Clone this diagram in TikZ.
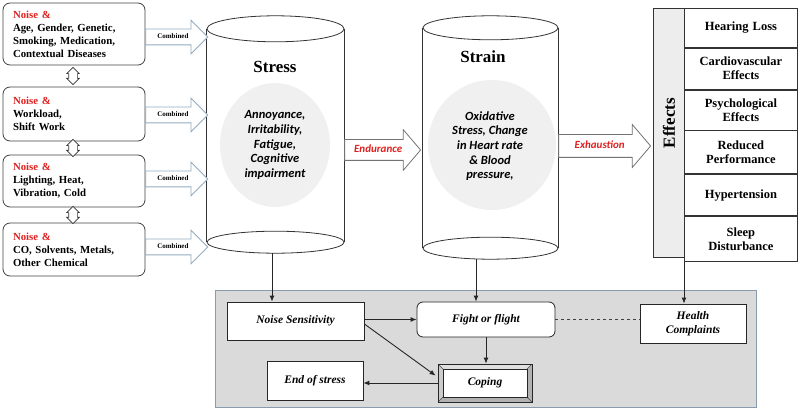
\documentclass[tikz,border=0pt]{standalone}
\usepackage{fontspec}
\setmainfont{Liberation Serif}
\newfontfamily\calib{Carlito}
\usetikzlibrary{shapes.arrows,calc,arrows.meta}
\definecolor{nred}{HTML}{E02020}
\definecolor{arrblue}{HTML}{93AAC0}
\definecolor{panel}{HTML}{DADADA}
\definecolor{panelb}{HTML}{8A9BAE}
\definecolor{blob}{HTML}{F0F0F0}
\definecolor{effgray}{HTML}{EDEDED}
\begin{document}
\begin{tikzpicture}[x=1pt,y=-1pt,
  lbox/.style={draw=black!75, line width=0.8pt, rounded corners=7pt, minimum width=142pt, text width=122pt, align=left, inner sep=0pt, font=\bfseries\fontsize{10.8}{13}\selectfont},
  comb/.style={single arrow, draw=arrblue, line width=0.8pt, fill=white, single arrow tip angle=90, single arrow head extend=9pt, minimum height=62pt, text height=5pt, text depth=1pt, inner ysep=4.5pt, inner xsep=2pt, anchor=tail, font=\bfseries\fontsize{7}{8}\selectfont},
  updown/.style={double arrow, draw=black!80, line width=0.6pt, fill=white, rotate=90, double arrow tip angle=90, double arrow head extend=2pt, minimum height=14pt, inner sep=4pt},
  bigarr/.style={single arrow, draw=black!55, line width=0.8pt, fill=white, single arrow tip angle=99, single arrow head extend=10pt, text height=7pt, text depth=2pt, inner xsep=2pt, anchor=tail, text=nred, font=\calib\bfseries\itshape\fontsize{11}{12}\selectfont},
  cyl/.style={draw=black!80, line width=0.8pt},
  ctitle/.style={font=\bfseries\fontsize{17}{20}\selectfont},
  ctext/.style={align=center, font=\calib\bfseries\itshape\fontsize{12.5}{14.7}\selectfont},
  row/.style={draw=black!80, line width=0.8pt, fill=white, anchor=north west, minimum width=113pt, text width=108pt, align=center, inner sep=0pt, font=\bfseries\fontsize{12.5}{14}\selectfont},
  bbox/.style={draw=black!85, line width=0.8pt, fill=white, align=center, inner sep=0pt, font=\bfseries\itshape\fontsize{11.5}{14}\selectfont},
  arr/.style={draw=black!85, line width=0.9pt, -{Latex[length=6pt,width=5pt]}}
]
\useasboundingbox (0,0) rectangle (800,411);

% ---------- left boxes ----------
\node[lbox, minimum height=62pt] (b1) at (74,34) {{\color{nred}Noise \&}\\Age, Gender, Genetic,\\Smoking, Medication,\\Contextual Diseases};
\node[lbox, minimum height=54pt] (b2) at (74,114) {{\color{nred}Noise \&}\\Workload,\\Shift Work};
\node[lbox, minimum height=52pt] (b3) at (74,181) {{\color{nred}Noise \&}\\Lighting, Heat,\\Vibration, Cold};
\node[lbox, minimum height=53pt] (b4) at (74,249.5) {{\color{nred}Noise \&}\\CO, Solvents, Metals,\\Other Chemical};

\node[updown] (d1) at ($(b1.south)!0.5!(b2.north)+(-1,0)$) {};
\node[updown] (d2) at ($(b2.south)!0.5!(b3.north)+(-1,0)$) {};
\node[updown] (d3) at ($(b3.south)!0.5!(b4.north)+(-1,0)$) {};

% ---------- cylinders ----------
\node[minimum width=137pt, minimum height=213pt, inner sep=0pt] (stress) at (275.5,135.5) {};
\node[minimum width=135pt, minimum height=220pt, inner sep=0pt] (strain) at (490.5,138) {};

\draw[cyl] (stress.north west) -- (stress.south west) (stress.north east) -- (stress.south east);
\draw[cyl] (strain.north west) -- (strain.south west) (strain.north east) -- (strain.south east);

\fill[blob] (275,145) ellipse [x radius=55pt, y radius=62pt];
\fill[blob] (492,145) ellipse [x radius=64pt, y radius=65pt];

\draw[cyl, fill=white] (stress.north) ellipse [x radius=68.5pt, y radius=13pt];
\draw[cyl, fill=white] (stress.south) ellipse [x radius=68.5pt, y radius=11pt];
\draw[cyl, fill=white] (strain.north) ellipse [x radius=67.5pt, y radius=12pt];
\draw[cyl, fill=white] (strain.south) ellipse [x radius=67.5pt, y radius=11pt];

\node[ctitle] (stresst) at (275,67) {Stress};
\node[ctitle] (straint) at (483,57) {Strain};
\node[ctext] (stressx) at (275,145) {Annoyance,\\Irritability,\\Fatigue,\\Cognitive\\impairment};
\node[ctext] (strainx) at (490,146) {Oxidative\\Stress, Change\\in Heart rate\\\& Blood\\pressure,};

% ---------- combined arrows ----------
\node[comb] (c1) at ($(b1.east)+(0,3)$) {Combined};
\node[comb] (c2) at ($(b2.east)+(0,1)$) {Combined};
\node[comb] (c3) at ($(b3.east)+(0,-2)$) {Combined};
\node[comb] (c4) at ($(b4.east)+(0,-2.5)$) {Combined};

% ---------- endurance / exhaustion ----------
\node[bigarr, minimum height=76pt, inner ysep=5.5pt] (endu) at ($(stress.east)+(0,14.5)$) {Endurance};
\node[bigarr, minimum height=92pt, inner ysep=6.5pt] (exha) at ($(strain.east)+(0,8)$) {Exhaustion};

% ---------- effects panel ----------
\node[draw=black!80, line width=0.8pt, fill=effgray, anchor=north west, minimum width=31pt, minimum height=249pt, inner sep=0pt] (effcol) at (653,8) {};
\node[rotate=90, font=\bfseries\fontsize{17}{20}\selectfont] (efft) at (effcol.center |- 0,123) {Effects};
\node[row, minimum height=39pt] (r1) at (684,8) {Hearing Loss};
\node[row, minimum height=41pt] (r2) at (r1.south west) {Cardiovascular\\Effects};
\node[row, minimum height=40pt] (r3) at (r2.south west) {Psychological\\Effects};
\node[row, minimum height=43pt] (r4) at (r3.south west) {Reduced\\Performance};
\node[row, minimum height=41pt] (r5) at (r4.south west) {Hypertension};
\node[row, minimum height=45pt] (r6) at (r5.south west) {Sleep\\Disturbance};

% ---------- bottom panel ----------
\node[draw=panelb, fill=panel, line width=0.8pt, anchor=north west, minimum width=541pt, minimum height=117pt, inner sep=0pt] (panel) at (215,290) {};

\node[bbox, minimum width=137pt, minimum height=38pt] (ns) at (295.5,321) {Noise Sensitivity};
\node[bbox, rounded corners=6pt, minimum width=138pt, minimum height=35pt] (fof) at (486,319.5) {Fight or flight};
\node[bbox, minimum width=96pt, minimum height=39pt] (eos) at (315,380.5) {End of stress};
\node[bbox, minimum width=106pt, minimum height=39pt] (hc) at (693,323.5) {Health\\Complaints};
\node[bbox, fill=black!30, minimum width=94pt, minimum height=38pt,
  path picture={
    \fill[black!12] (path picture bounding box.north west) -- (path picture bounding box.north east) -- ++(-5,5) -- ($(path picture bounding box.north west)+(5,5)$) -- cycle;
    \fill[black!20] (path picture bounding box.north west) -- (path picture bounding box.south west) -- ++(5,-5) -- ($(path picture bounding box.north west)+(5,5)$) -- cycle;
    \draw[black!70, line width=0.5pt] (path picture bounding box.north west) -- ++(5,5) (path picture bounding box.north east) -- ++(-5,5) (path picture bounding box.south west) -- ++(5,-5) (path picture bounding box.south east) -- ++(-5,-5);
    \draw[black!85, line width=0.6pt, fill=white] ($(path picture bounding box.north west)+(5,5)$) rectangle ($(path picture bounding box.south east)+(-5,-5)$);
  }] (coping) at (485,383) {Coping};

% ---------- connectors ----------
\coordinate (stressbot) at ($(stress.south)+(-3.5,11)$);
\coordinate (strainbot) at ($(strain.south)+(-14.5,11)$);
\draw[arr] (stressbot) -- (stressbot |- ns.north);
\draw[arr] (strainbot) -- (strainbot |- fof.north);
\draw[arr] (r6.south west) -- (r6.south west |- hc.north);
\draw[arr] (ns.east |- fof.west) -- (fof.west);
\draw[arr] ($(ns.east)+(0,3)$) -- ($(coping.north west)+(-2,12)$);
\draw[arr] (fof.south) -- (fof.south |- coping.north);
\draw[arr] (coping.west) -- (coping.west -| eos.east);
\draw[draw=black!75, line width=0.8pt, dashed] (fof.east) -- (fof.east -| hc.west);
\end{tikzpicture}
\end{document}
